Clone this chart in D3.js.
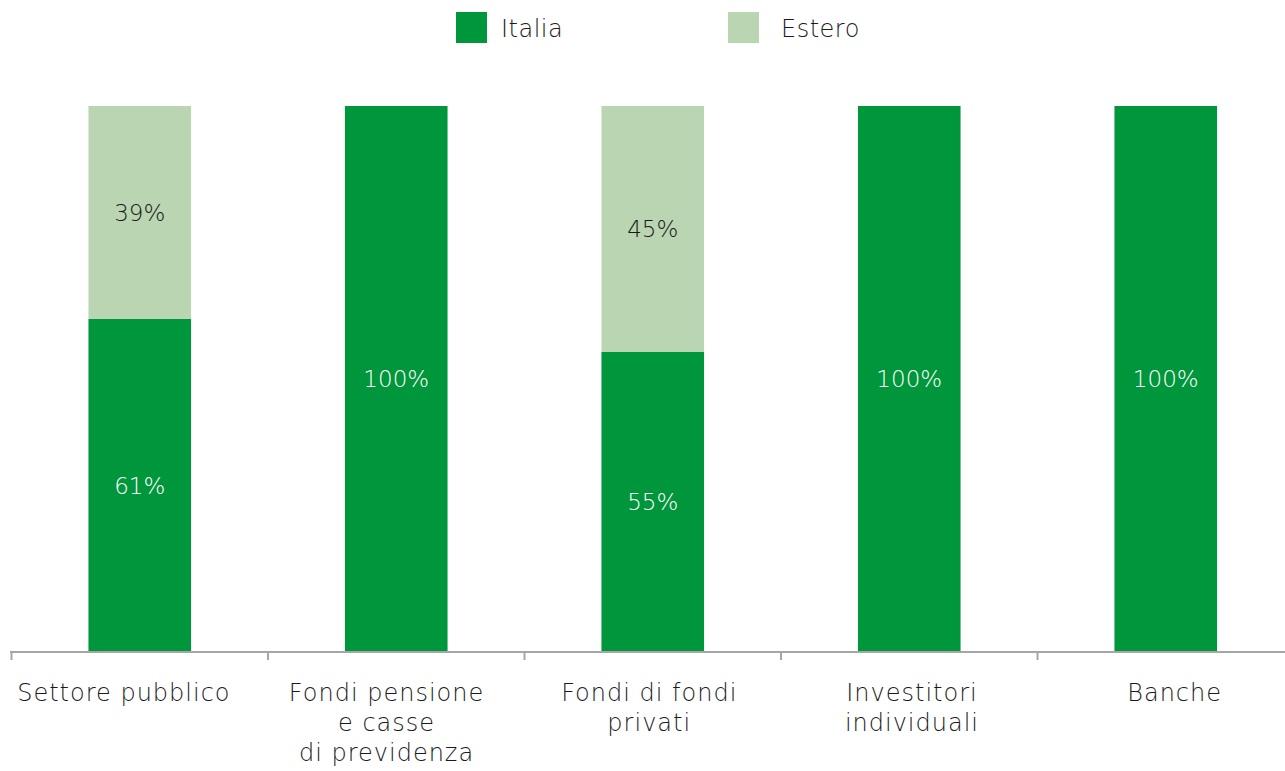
<!DOCTYPE html>
<html>
<head>
<meta charset="utf-8">
<script src="https://cdn.jsdelivr.net/npm/d3@7"></script>
<style>
  body { margin: 0; background: #fff; }
  svg { display: block; font-family: "DejaVu Sans", sans-serif; font-weight: 200; }
</style>
</head>
<body>
<svg id="chart" width="1285" height="771"></svg>
<script>
// Chart data
const categories = [
  ["Settore pubblico"],
  ["Fondi pensione", "e casse", "di previdenza"],
  ["Fondi di fondi", "privati"],
  ["Investitori", "individuali"],
  ["Banche"]
];
const italia = [61, 100, 55, 100, 100];
const estero = [39, 0, 45, 0, 0];
const seriesNames = ["Italia", "Estero"];
const colors = ["#00963b", "#bad5b1"];

const svg = d3.select("#chart");
const width = 1285, height = 771;
const margin = { top: 106, right: -9, bottom: 119, left: 11.5 };
const axisY = height - margin.bottom;

const keys = categories.map((c, i) => i);
const x = d3.scaleBand()
  .domain(keys)
  .range([margin.left, width - margin.right])
  .padding(0);

// labels sit on a slightly wider grid than the bars
const xLabel = d3.scaleBand()
  .domain(keys)
  .range([-7.5, 1306])
  .padding(0);

const y = d3.scaleLinear()
  .domain([0, 100])
  .range([axisY, margin.top]);

const barW = x.bandwidth() * 0.4;

const rows = keys.map(i => ({ i, Italia: italia[i], Estero: estero[i] }));
const stack = d3.stack().keys(seriesNames)(rows);

// Bars
stack.forEach((layer, s) => {
  svg.append("g")
    .attr("fill", colors[s])
    .selectAll("rect")
    .data(layer)
    .join("rect")
    .attr("x", d => x(d.data.i) + x.bandwidth() / 2 - barW / 2)
    .attr("y", d => y(d[1]))
    .attr("width", barW)
    .attr("height", d => y(d[0]) - y(d[1]));

  // Value labels
  svg.append("g")
    .selectAll("text")
    .data(layer.filter(d => d[1] - d[0] > 0))
    .join("text")
    .attr("x", d => x(d.data.i) + x.bandwidth() / 2)
    .attr("y", d => (y(d[0]) + y(d[1])) / 2)
    .attr("dy", "0.36em")
    .attr("text-anchor", "middle")
    .attr("font-size", 23)
    .attr("fill", s === 0 ? "#ffffff" : "#1a1a1a")
    .text(d => (d[1] - d[0]) + "%");
});

// Axis
const axis = svg.append("g")
  .attr("transform", `translate(0,${axisY})`);
axis.append("line")
  .attr("x1", 10).attr("x2", width)
  .attr("stroke", "#a6a6a6").attr("stroke-width", 2);
axis.selectAll(".tick")
  .data(keys)
  .join("line")
  .attr("x1", d => x(d)).attr("x2", d => x(d))
  .attr("y1", 0).attr("y2", 8)
  .attr("stroke", "#a6a6a6").attr("stroke-width", 2);

// Category labels
axis.selectAll(".cat")
  .data(keys)
  .join("text")
  .attr("text-anchor", "middle")
  .attr("font-size", 24)
  .attr("letter-spacing", 1)
  .attr("fill", "#1a1a1a")
  .each(function(d) {
    const t = d3.select(this);
    categories[d].forEach((line, k) => {
      t.append("tspan")
        .attr("x", xLabel(d) + xLabel.bandwidth() / 2)
        .attr("y", 49 + k * 30)
        .text(line);
    });
  });

// Legend
const legendX = [456, 728];
const legend = svg.append("g");
seriesNames.forEach((name, s) => {
  legend.append("rect")
    .attr("x", legendX[s]).attr("y", 12)
    .attr("width", 31).attr("height", 31)
    .attr("fill", colors[s]);
  legend.append("text")
    .attr("x", legendX[s] + 45 + s * 8).attr("y", 28)
    .attr("dy", "0.36em")
    .attr("font-size", 24)
    .attr("letter-spacing", 0.5)
    .attr("fill", "#1a1a1a")
    .text(name);
});
</script>
</body>
</html>
